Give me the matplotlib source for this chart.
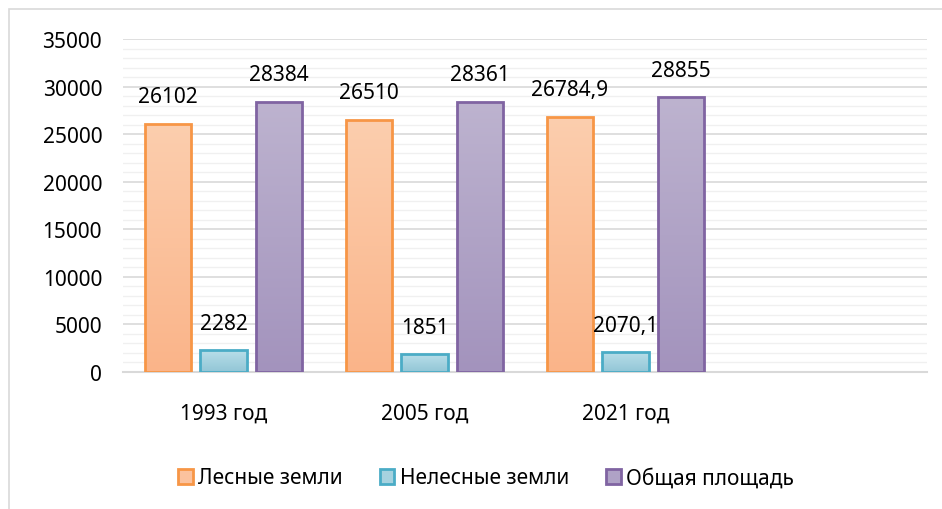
import numpy as np
import matplotlib
matplotlib.use("Agg")
import matplotlib.pyplot as plt
from matplotlib.patches import Rectangle, Patch
from matplotlib.colors import LinearSegmentedColormap
from matplotlib.ticker import MultipleLocator

plt.rcParams['font.family'] = ['Noto Sans', 'DejaVu Sans']

categories = ["1993 год", "2005 год", "2021 год", ""]
series_names = ["Лесные земли", "Нелесные земли", "Общая площадь"]
forest = [26102, 26510, 26784.9]
nonforest = [2282, 1851, 2070.1]
total = [28384, 28361, 28855]
labels_forest = ["26102", "26510", "26784,9"]
labels_nonforest = ["2282", "1851", "2070,1"]
labels_total = ["28384", "28361", "28855"]

series = [forest, nonforest, total]
series_labels = [labels_forest, labels_nonforest, labels_total]
edge_colors = ["#F79646", "#4BACC6", "#8064A2"]
top_colors = ["#FCCEAE", "#B8DEE9", "#BDB3CF"]
bot_colors = ["#FAB489", "#92C6D6", "#A393BD"]
mid_colors = ["#FBC29E", "#A6D2DF", "#AFA2C6"]

W, H = 942, 510
fig = plt.figure(figsize=(W / 100, H / 100), dpi=100)
ax = fig.add_axes([123 / W, 1 - 373 / H, (927 - 123) / W, (373 - 40) / H])

# outer frame (extends past right and bottom edges of the image)
fig.patches.append(Rectangle((9 / W, -0.1), 1.2, 1.1 - 10 / H, transform=fig.transFigure,
                             fill=False, edgecolor="#D9D9D9", linewidth=1.2, zorder=0))

x = np.arange(len(categories))
bw = 0.229
offs = [-0.276, 0.0, 0.276]

ax.set_xlim(-0.5, len(categories) - 0.5)
ax.set_ylim(0, 35000)

for si, vals in enumerate(series):
    cmap = LinearSegmentedColormap.from_list("g%d" % si, [bot_colors[si], top_colors[si]])
    grad = np.linspace(0, 1, 256).reshape(-1, 1)
    for i, v in enumerate(vals):
        xc = x[i] + offs[si]
        bars = ax.bar(xc, v, width=bw, facecolor="none", edgecolor=edge_colors[si],
                      linewidth=2.0, zorder=4)
        rect = bars[0]
        im = ax.imshow(grad, extent=[xc - bw / 2, xc + bw / 2, 0, v], origin="lower",
                       cmap=cmap, aspect="auto", zorder=3)
        im.set_clip_path(rect)
        ax.annotate(series_labels[si][i], (xc, v), xytext=(0, 12), textcoords="offset points",
                    ha="center", va="bottom", fontsize=15, color="#000000", zorder=5)

ax.set_xlim(-0.5, len(categories) - 0.5)
ax.set_ylim(0, 35000)

ax.yaxis.set_major_locator(MultipleLocator(5000))
ax.yaxis.set_minor_locator(MultipleLocator(1000))
ax.grid(axis="y", which="major", color="#D9D9D9", linewidth=1.2, zorder=0)
ax.grid(axis="y", which="minor", color="#F0F0F0", linewidth=1.0, zorder=0)
ax.set_axisbelow(True)

ax.set_xticks(x)
ax.set_xticklabels(categories, fontsize=15)
ax.tick_params(axis="x", length=0, pad=22)
ax.tick_params(axis="y", which="both", length=0, pad=15, labelsize=15)

for s in ["top", "right", "left"]:
    ax.spines[s].set_visible(False)
ax.spines["bottom"].set_color("#D9D9D9")
ax.spines["bottom"].set_linewidth(1.5)

handles = [Patch(facecolor=mid_colors[k], edgecolor=edge_colors[k], linewidth=2.0, label=series_names[k])
           for k in range(3)]
fig.legend(handles=handles, loc="center", bbox_to_anchor=(486 / W, 1 - 479 / H), ncol=3,
           frameon=False, fontsize=15, handlelength=0.7, handleheight=0.7, handletextpad=0.25,
           columnspacing=1.8)

fig.savefig("out.png", dpi=100)
